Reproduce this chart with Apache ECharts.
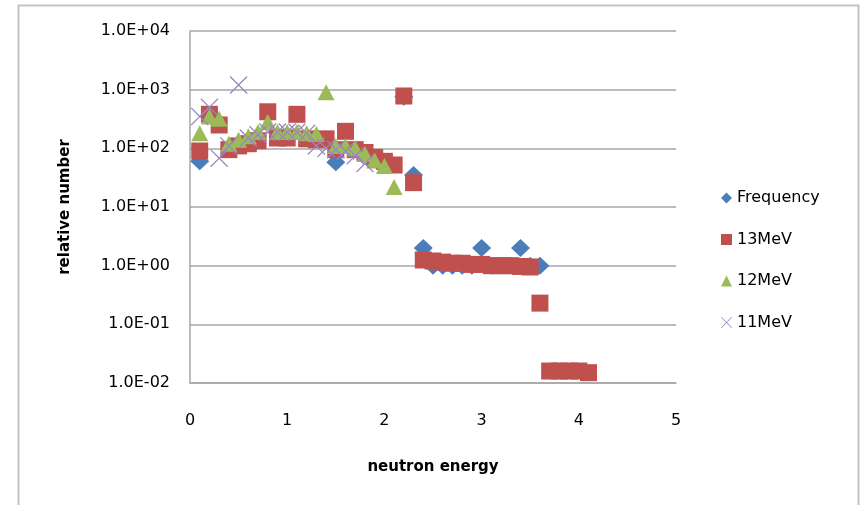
<!DOCTYPE html>
<html>
<head>
<meta charset="utf-8">
<script src="https://cdn.jsdelivr.net/npm/echarts@6/dist/echarts.min.js"></script>
<style>
  html, body { margin: 0; padding: 0; background: #ffffff; }
  #chart { width: 862px; height: 505px; }
</style>
</head>
<body>
<div id="chart"></div>
<script>
// Frequency (histogram counts)
const energyFreq = [0.1, 1.5, 2.2, 2.3, 2.4, 2.5, 2.6, 2.7, 2.8, 2.9, 3.0, 3.1, 3.2, 3.3, 3.4, 3.5, 3.6];
const relFreq    = [60, 58, 760, 35, 2, 1, 1, 1, 1, 1, 2, 1, 1, 1, 2, 1, 1];

// 13 MeV
const energy13 = [0.1, 0.2, 0.3, 0.4, 0.5, 0.6, 0.7, 0.8, 0.9, 1.0, 1.1, 1.2, 1.3, 1.4,
                  1.5, 1.6, 1.7, 1.8, 1.9, 2.0, 2.1, 2.2, 2.3, 2.4, 2.5, 2.6, 2.7, 2.8,
                  2.9, 3.0, 3.1, 3.2, 3.3, 3.4, 3.5, 3.6, 3.7, 3.8, 3.9, 4.0, 4.1];
const rel13 = [90, 380, 250, 95, 110, 120, 135, 420, 150, 150, 380, 145, 140, 145,
               95, 195, 95, 85, 70, 60, 52, 780, 26, 1.25, 1.2, 1.15, 1.1, 1.1,
               1.05, 1.05, 1.0, 1.0, 1.0, 0.97, 0.95, 0.23, 0.016, 0.016, 0.016, 0.016, 0.015];

// 12 MeV
const energy12 = [0.1, 0.2, 0.3, 0.4, 0.5, 0.6, 0.7, 0.8, 0.9, 1.0, 1.1, 1.2, 1.3, 1.4,
                  1.5, 1.6, 1.7, 1.8, 1.9, 2.0, 2.1];
const rel12 = [180, 350, 320, 120, 140, 160, 190, 280, 190, 190, 190, 180, 175, 900,
               110, 110, 100, 80, 62, 50, 22];

// 11 MeV
const energy11 = [0.1, 0.2, 0.3, 0.4, 0.5, 0.6, 0.7, 0.8, 0.9, 1.0, 1.1, 1.2, 1.3, 1.4,
                  1.5, 1.6, 1.7, 1.8];
const rel11 = [350, 500, 68, 110, 1200, 150, 170, 190, 190, 190, 190, 180, 110, 100,
               95, 90, 75, 55];

const xTicks = [0, 1, 2, 3, 4, 5];

const zip = (xs, ys) => xs.map((x, i) => [x, ys[i]]);

// filled "X" outline used as the cross marker
const t = 5;
const crossPath = 'path://M0,' + t + 'L' + t + ',0L50,' + (50 - t) + 'L' + (100 - t) + ',0L100,' + t +
  'L' + (50 + t) + ',50L100,' + (100 - t) + 'L' + (100 - t) + ',100L50,' + (50 + t) +
  'L' + t + ',100L0,' + (100 - t) + 'L' + (50 - t) + ',50Z';

const font = 'DejaVu Sans';

const sciLabel = v => {
  const e = Math.round(Math.log10(v));
  return '1.0E' + (e < 0 ? '-' : '+') + String(Math.abs(e)).padStart(2, '0');
};

const chart = echarts.init(document.getElementById('chart'), null, { renderer: 'canvas' });

chart.setOption({
  animation: false,
  backgroundColor: '#ffffff',
  textStyle: { fontFamily: font },
  graphic: [{
    type: 'rect',
    shape: { x: 18.5, y: 5.5, width: 840, height: 520 },
    style: { fill: 'none', stroke: '#c4c4c4', lineWidth: 2 },
    silent: true
  }],
  grid: { left: 190, top: 31, width: 486, height: 352, containLabel: false },
  xAxis: {
    type: 'value',
    min: 0, max: 5, interval: 1,
    name: 'neutron energy',
    nameLocation: 'middle',
    nameGap: 77,
    nameTextStyle: { fontFamily: font, fontSize: 15, fontWeight: 'bold', color: '#000' },
    axisLine: { show: true, onZero: false, lineStyle: { color: '#a6a6a6', width: 1.5 } },
    axisTick: { show: false },
    splitLine: { show: false },
    axisLabel: {
      color: '#000', fontSize: 16, fontFamily: font, margin: 30,
      formatter: v => (xTicks.includes(v) ? String(v) : '')
    }
  },
  yAxis: {
    type: 'log',
    logBase: 10,
    min: 0.01, max: 10000,
    name: 'relative number',
    nameLocation: 'middle',
    nameGap: 117,
    nameRotate: 90,
    nameTextStyle: { fontFamily: font, fontSize: 15, fontWeight: 'bold', color: '#000' },
    axisLine: { show: true, lineStyle: { color: '#a6a6a6', width: 1.5 } },
    axisTick: { show: false },
    splitLine: { show: true, lineStyle: { color: '#a6a6a6', width: 1.5 } },
    axisLabel: { color: '#000', fontSize: 16, fontFamily: font, margin: 20, formatter: sciLabel }
  },
  legend: {
    orient: 'vertical',
    left: 716, top: 185,
    itemWidth: 11, itemHeight: 11,
    itemGap: 25.5,
    textStyle: { fontFamily: font, fontSize: 16, color: '#000' },
    data: ['Frequency', '13MeV', '12MeV', '11MeV']
  },
  series: [
    {
      name: 'Frequency', type: 'scatter', symbol: 'diamond', symbolSize: [19, 18],
      itemStyle: { color: '#4a7ebb', opacity: 1 },
      data: zip(energyFreq, relFreq), z: 1
    },
    {
      name: '13MeV', type: 'scatter', symbol: 'rect', symbolSize: 17,
      itemStyle: { color: '#c0504d', opacity: 1 },
      data: zip(energy13, rel13), z: 2
    },
    {
      name: '12MeV', type: 'scatter', symbol: 'triangle', symbolSize: [17, 16],
      itemStyle: { color: '#9bbb59', opacity: 1 },
      data: zip(energy12, rel12), z: 3
    },
    {
      name: '11MeV', type: 'scatter', symbol: crossPath, symbolSize: 18,
      itemStyle: { color: '#9a86c4', opacity: 1 },
      data: zip(energy11, rel11), z: 4
    }
  ]
});
</script>
</body>
</html>
